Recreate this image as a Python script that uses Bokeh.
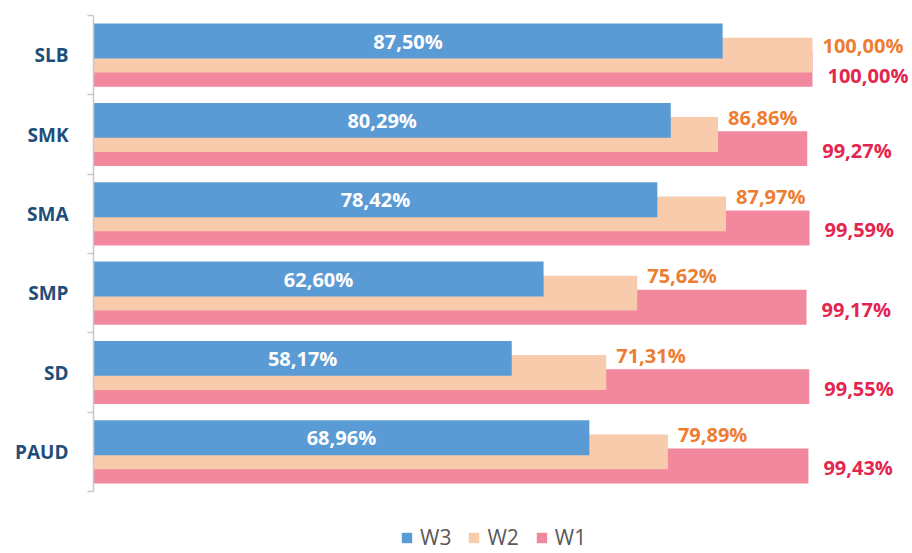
import numpy as np
from bokeh.plotting import figure
from bokeh.models import Range1d, FixedTicker, ColumnDataSource, Legend, LegendItem
from bokeh.core.properties import value
from bokeh.embed import file_html
from bokeh.resources import INLINE

# ---- data ----
categories = ["SLB", "SMK", "SMA", "SMP", "SD", "PAUD"]
w3 = [87.50, 80.29, 78.42, 62.60, 58.17, 68.96]
w2 = [100.00, 86.86, 87.97, 75.62, 71.31, 79.89]
w1 = [100.00, 99.27, 99.59, 99.17, 99.55, 99.43]
series_names = ["W3", "W2", "W1"]

# ---- styles ----
C_W3 = "#5B9BD5"
C_W2 = "#F8CBAD"
C_W1 = "#F1889D"
C_W2_TXT = "#ED7D31"
C_W1_TXT = "#E3264F"
C_CAT = "#1F4E79"
FONT = "Open Sans"
BAR_H = 0.44
OFF = 0.178
W, H = 912, 553
FRAME_LEFT, FRAME_TOP, AXIS_BOTTOM = 93, 15, 491
PX_PER_UNIT = 7.19

def fmt(v):
    return f"{v:.2f}".replace(".", ",") + "%"

n = len(categories)
ycenter = np.array([n - i - 0.5 for i in range(n)])
cat_px = (AXIS_BOTTOM - FRAME_TOP) / n
y_bottom = -(H - AXIS_BOTTOM) / cat_px

src = ColumnDataSource(dict(
    cat=categories,
    y=ycenter,
    y3=ycenter + OFF,
    y2=ycenter,
    y1=ycenter - OFF,
    y2top=ycenter + BAR_H / 2,
    w3=w3, w2=w2, w1=w1,
    w3half=[v / 2 for v in w3],
    l3=[fmt(v) for v in w3],
    l2=[fmt(v) for v in w2],
    l1=[fmt(v) for v in w1],
    dy2=[8, 0, 0, 0, 0, 0],
    dy1=[6, 2, 2, 2, 2, 2],
))

p = figure(width=W, height=H, output_backend="svg", toolbar_location=None,
           x_range=Range1d(0, (W - FRAME_LEFT) / PX_PER_UNIT), y_range=Range1d(y_bottom, n),
           min_border_left=FRAME_LEFT, min_border_right=0, min_border_top=FRAME_TOP, min_border_bottom=0)
p.outline_line_color = None
p.xaxis.visible = False
p.xgrid.visible = False
p.ygrid.visible = False

r1 = p.hbar(y="y1", right="w1", left=0, height=BAR_H, source=src, fill_color=C_W1, line_color=None)
r2 = p.hbar(y="y2", right="w2", left=0, height=BAR_H, source=src, fill_color=C_W2, line_color=None)
r3 = p.hbar(y="y3", right="w3", left=0, height=BAR_H, source=src, fill_color=C_W3, line_color=None)

# labels
p.text(x="w3half", y="y3", text="l3", source=src, text_align="center", text_baseline="middle",
       text_color="white", text_font=value(FONT), text_font_style="bold", text_font_size="20px")
p.text(x="w2", y="y2top", text="l2", source=src, x_offset=10, y_offset="dy2", text_align="left",
       text_baseline="middle", text_color=C_W2_TXT, text_font=value(FONT), text_font_style="bold",
       text_font_size="20px")
p.text(x="w1", y="y1", text="l1", source=src, x_offset=15, y_offset="dy1", text_align="left",
       text_baseline="middle", text_color=C_W1_TXT, text_font=value(FONT), text_font_style="bold",
       text_font_size="20px")

# y axis: category names at centers, small ticks at boundaries
ax = p.yaxis[0]
ax.bounds = (0, n)
ax.ticker = FixedTicker(ticks=list(ycenter), minor_ticks=list(range(n + 1)))
ax.major_label_overrides = {float(y): c for y, c in zip(ycenter, categories)}
ax.major_tick_out = 0
ax.major_tick_in = 0
ax.minor_tick_out = 6
ax.minor_tick_in = 0
ax.minor_tick_line_color = "#C8C8C8"
ax.minor_tick_line_width = 1.5
ax.axis_line_color = "#C8C8C8"
ax.axis_line_width = 1.5
ax.major_label_standoff = 19
ax.major_label_text_font = FONT
ax.major_label_text_font_style = "bold"
ax.major_label_text_font_size = "19px"
ax.major_label_text_color = C_CAT

legend = Legend(items=[LegendItem(label=series_names[0], renderers=[r3]),
                       LegendItem(label=series_names[1], renderers=[r2]),
                       LegendItem(label=series_names[2], renderers=[r1])],
                orientation="horizontal", location=(307, 2),
                padding=0, margin=0, spacing=16, label_standoff=7,
                glyph_width=13, glyph_height=13, label_height=24,
                label_text_font=FONT, label_text_font_size="21px", label_text_color="#595959",
                border_line_color=None, background_fill_alpha=0)
p.add_layout(legend, "center")

open("out.html", "w").write(file_html(p, INLINE))
